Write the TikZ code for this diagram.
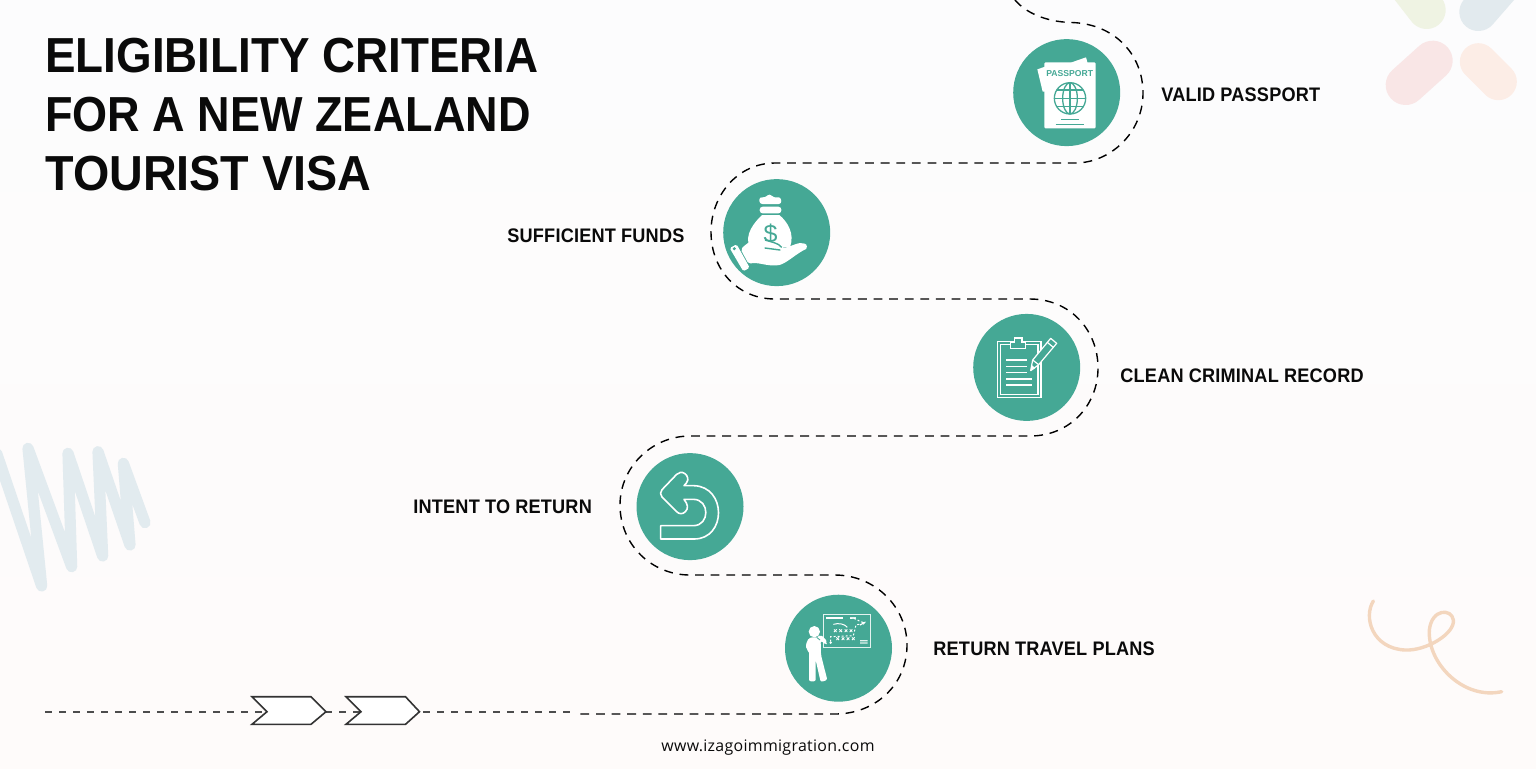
\documentclass[tikz,border=0pt]{standalone}
\usepackage{fontspec}
\usetikzlibrary{arrows.meta}
\setmainfont{Liberation Sans}
\newfontfamily\titlefont[FakeStretch=0.93]{Liberation Sans}
\newfontfamily\labelfont[FakeStretch=0.925,LetterSpace=1]{Liberation Sans}
\newfontfamily\webfont[LetterSpace=2]{Open Sans}
\definecolor{teal1}{HTML}{45A895}
\definecolor{ink}{HTML}{0A0A0A}
\definecolor{bgtop}{RGB}{252,252,253}
\definecolor{bgmid}{RGB}{253,253,253}
\definecolor{bgbot}{RGB}{254,251,250}
\tikzset{
  disc/.style={circle,fill=teal1,draw=none,minimum size=53.5pt,inner sep=0pt},
  caption/.style={font=\labelfont\bfseries\fontsize{9.8pt}{11pt}\selectfont,text=ink,anchor=west,inner sep=0pt},
  headline/.style={font=\titlefont\bfseries\fontsize{24.6pt}{28pt}\selectfont,text=ink,anchor=base west,inner sep=0pt,transform shape},
  route/.style={draw=black,line width=0.7pt,dash pattern=on 4.4pt off 3.4pt},
  lead/.style={draw=black!70,line width=0.6pt,dash pattern=on 3.6pt off 3.4pt},
  chev/.style={draw=black!80,line width=0.8pt,fill=white,line join=miter},
  iconline/.style={draw=white,line width=0.6pt},
  zoomed/.style={x=0.16667pt,y=-0.16667pt},
}
\begin{document}
\begin{tikzpicture}[x=0.5pt,y=-0.5pt]
\useasboundingbox (0,0) rectangle (1536,768);
\shade[top color=bgtop,middle color=bgmid,bottom color=bgbot] (0,0) rectangle (1536,768);
% pills
\begin{scope}[shift={(1370,0)},zoomed,line cap=round]
\clip (0,0) rectangle (500,360);
\draw[line width=19pt,color={rgb,255:red,239;green,243;blue,227}] (170,30) -- (100,-60);
\draw[line width=19pt,color={rgb,255:red,226;green,234;blue,238}] (325,36) -- (400,-50);
\draw[line width=20pt,color={rgb,255:red,249;green,230;blue,230}] (107,255) -- (188,182);
\draw[line width=18.5pt,color={rgb,255:red,252;green,237;blue,230}] (325,185) -- (385,245);
\end{scope}
% scribble
\begin{scope}[shift={(0,430)},zoomed]
\draw[line width=5.6pt,line cap=round,line join=round,color={rgb,255:red,226;green,235;blue,239}]
 (-10,70) -- (125,468) -- (84,55) -- (215,410) -- (204,70) -- (308,378) -- (294,65) -- (390,345) -- (370,100) -- (435,278);
\end{scope}
% curl
\begin{scope}[shift={(1350,590)},zoomed]
\draw[line width=1.7pt,line cap=round,color={rgb,255:red,243;green,214;blue,190}]
 (70,33) .. controls (40,80) and (65,175) .. (165,180) .. controls (230,183) and (315,130) .. (310,90)
 .. controls (305,55) and (245,55) .. (238,120) .. controls (232,220) and (340,330) .. (455,305);
\end{scope}
% route
\coordinate (rA) at (1015,0);
\coordinate (rB) at (1143,93);
\coordinate (rC) at (711,232);
\coordinate (rD) at (1098,368);
\coordinate (rE) at (620,505);
\coordinate (rF) at (907,645);
\coordinate (rG) at (580,714);
\coordinate (lA) at (45,712);
\coordinate (lB) at (575,712);
\draw[route] (rA) .. controls (1025,12) and (1045,22) .. (1072,22.5) .. controls (1115,24) and (1143,55) .. (rB)
 .. controls (1143,133) and (1110,163) .. (1075,163) -- (775,163)
 .. controls (738,163) and (711,195) .. (rC) .. controls (711,270) and (738,299) .. (775,299) -- (1030,299)
 .. controls (1070,299) and (1098,330) .. (rD) .. controls (1098,405) and (1070,436) .. (1030,436) -- (690,436)
 .. controls (652,436) and (620,467) .. (rE) .. controls (620,545) and (652,575) .. (690,575) -- (835,575)
 .. controls (875,575) and (907,607) .. (rF) .. controls (907,685) and (875,714) .. (835,714) -- (rG);
\draw[lead] (lA) -- (lB);
\draw[chev] (252,696.7) -- (311,696.7) -- (326,711.7) -- (311,724.3) -- (252,724.3) -- (267,711.7) -- cycle;
\draw[chev] (346,696.7) -- (405.5,696.7) -- (419.5,711.7) -- (405.5,724.3) -- (346,724.3) -- (361,711.7) -- cycle;
% discs
\node[disc] (passport) at (1066.7,92.6) {};
\node[disc] (funds) at (776.7,232.6) {};
\node[disc] (criminal) at (1026.7,367.4) {};
\node[disc] (intent) at (690,506.6) {};
\node[disc] (travel) at (838.5,648.2) {};
% passport icon
\begin{scope}[shift={(1000,0)},zoomed]
\fill[white] (112,208) -- (135,200) -- (135,275) -- (128,275) -- cycle;
\fill[white] (212,188) -- (258,172) -- (263,190) -- cycle;
\fill[white,rounded corners=0.6pt] (133,187) rectangle (287,385);
\node[text=teal1,font=\bfseries\fontsize{4.3pt}{5pt}\selectfont,inner sep=0pt] (ptxt) at (209,222) {PASSPORT};
\begin{scope}[teal1,line width=0.65pt]
\draw (210,295) circle (47);
\draw (210,295) ellipse (22 and 47);
\draw (210,248) -- (210,342);
\draw (163,295) -- (257,295);
\draw (170,270) -- (250,270);
\draw (170,320) -- (250,320);
\draw[line width=0.5pt] (184,358) -- (237,358);
\draw[line width=0.5pt] (167,372) -- (253,372);
\end{scope}
\end{scope}
% funds icon
\begin{scope}[shift={(700,160)},zoomed]
\fill[white,rounded corners=1.5pt] (178,110) -- (195,114) -- (208,100) -- (222,114) -- (242,110) -- (245,132) -- (178,132) -- cycle;
\fill[white,rounded corners=1.5pt] (179,140) rectangle (244,160);
\fill[white] (186,165) -- (238,165) .. controls (262,185) and (285,220) .. (270,262) -- (150,262) .. controls (130,225) and (165,185) .. (186,165) -- cycle;
\node[text=teal1,font=\fontsize{12.5pt}{13pt}\selectfont,inner sep=0pt] (dollar) at (212,222) {\$};
\fill[white,rounded corners=1pt] (122,268) .. controls (150,240) and (175,232) .. (195,240) .. controls (215,248) and (235,248) .. (245,258)
 .. controls (255,268) and (290,248) .. (308,250) .. controls (322,252) and (322,265) .. (312,270)
 .. controls (285,285) and (255,312) .. (232,316) .. controls (200,318) and (170,305) .. (146,312) -- cycle;
\draw[teal1,line width=0.7pt,line cap=round] (195,264) -- (240,270);
\draw[teal1,line width=0.7pt] (195,240) .. controls (212,246) and (235,248) .. (245,262);
\fill[white,rounded corners=0.8pt] (89,264) -- (110,253) -- (149,323) -- (130,334) -- cycle;
\fill[teal1] (103,266) circle (5);
\end{scope}
% clipboard icon
\begin{scope}[shift={(960,300)},zoomed]
\draw[iconline] (112,124) rectangle (243,292);
\draw[iconline] (121,133) rectangle (234,283);
\draw[iconline,fill=teal1] (152,146) -- (152,128) -- (164,128) -- (164,114) -- (186,114) -- (186,128) -- (196,128) -- (196,146) -- cycle;
\draw[white,line width=0.75pt] (138,180) -- (200,180) (138,199) -- (200,199) (138,218) -- (200,218) (138,237) -- (216,237) (138,255) -- (216,255);
\draw[iconline,fill=teal1,line join=round] (212,212) -- (218,180) -- (272,115) -- (290,130) -- (236,194) -- cycle;
\draw[iconline] (262,127) -- (280,142);
\draw[iconline] (218,180) -- (236,194);
\fill[white] (212,212) -- (215,195) -- (226,204) -- cycle;
\end{scope}
% return icon
\begin{scope}[shift={(610,435)},zoomed]
\draw[white,line width=0.8pt,line join=round]
 (152,312) -- (152,272) -- (250,272) .. controls (300,272) and (300,193) .. (250,193) -- (222,193)
 .. controls (234,208) and (236,220) .. (226,230) .. controls (218,238) and (208,238) .. (200,230) -- (156,186)
 .. controls (150,179) and (150,171) .. (156,164) -- (200,118) .. controls (206,112) and (216,109) .. (225,116)
 .. controls (232,122) and (238,133) .. (229,144) -- (222,152) -- (252,152)
 .. controls (350,155) and (350,312) .. (252,312) -- cycle;
\end{scope}
% travel icon
\begin{scope}[shift={(770,580)},zoomed]
\draw[draw=white!85!teal1,line width=0.6pt] (160,103) rectangle (302,203);
\fill[white] (168,112) rectangle (218,118);
\fill[white!85!teal1] (240,112) rectangle (258,116);
\fill[white!85!teal1] (270,180) rectangle (293,184) (270,187) rectangle (293,191);
\draw[white,line width=0.5pt] (190,133) .. controls (205,128) and (225,132) .. (232,142);
\draw[white,line width=0.5pt,dash pattern=on 1pt off 1pt] (240,115) .. controls (262,112) and (265,128) .. (285,128);
\draw[white,line width=0.6pt,-{Stealth[length=2pt]}] (270,135) -- (288,125);
\draw[white,line width=0.5pt,dash pattern=on 1pt off 1pt] (182,185) -- (182,170) -- (250,167) -- (258,135) -- (272,132);
\foreach \cx/\cy in {196/152,212/152,228/152,243/152,203/176,219/176,234/176,250/176}{
  \draw[white,line width=0.4pt] (\cx-4,\cy-4) -- (\cx+4,\cy+4) (\cx-4,\cy+4) -- (\cx+4,\cy-4);
}
\fill[white] (182,188) circle (4);
\fill[white] (133,155) circle (17);
\fill[white,rounded corners=1pt] (108,208) .. controls (108,180) and (118,172) .. (133,172) -- (146,172) -- (150,165) -- (163,172) -- (172,188) -- (168,194) -- (152,182) -- (153,225) -- (172,300) -- (152,306) -- (137,240) -- (137,304) -- (117,304) -- (117,212) -- cycle;
\draw[teal1,line width=0.4pt] (140,172) -- (150,180);
\end{scope}
% labels
\node[caption] (l1) at (1161,94.5) {VALID PASSPORT};
\node[caption] (l2) at (507,235.5) {SUFFICIENT FUNDS};
\node[caption] (l3) at (1120,375.5) {CLEAN CRIMINAL RECORD};
\node[caption] (l4) at (413,506.5) {INTENT TO RETURN};
\node[caption] (l5) at (933,648.5) {RETURN TRAVEL PLANS};
\node[headline] (t1) at (45,72) {ELIGIBILITY CRITERIA};
\node[headline,xscale=0.984] (t2) at (45,131) {FOR A NEW ZEALAND};
\node[headline,xscale=1.02] (t3) at (45,190) {TOURIST VISA};
\node[font=\webfont\fontsize{7.95pt}{9pt}\selectfont,text=ink,inner sep=0pt] (web) at (768,748) {www.izagoimmigration.com};
\end{tikzpicture}
\end{document}
